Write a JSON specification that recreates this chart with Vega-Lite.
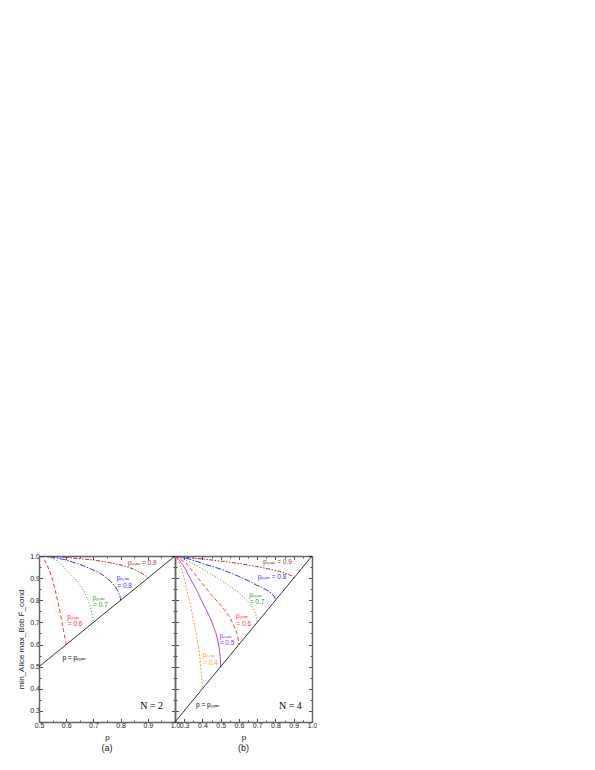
{
  "$schema": "https://vega.github.io/schema/vega-lite/v6.json",
  "padding": {"left": 17, "top": 552, "right": 0, "bottom": 0},
  "autosize": {"type": "pad"},
  "spacing": 0,
  "bounds": "flush",
  "config": {
    "view": {"stroke": null},
    "font": "Liberation Sans",
    "axis": {"domainColor": "#666", "domainWidth": 1.5, "tickColor": "#222", "tickWidth": 0.8, "labelFont": "Liberation Sans", "labelFontSize": 7, "labelColor": "#222", "titleFont": "Liberation Sans", "titleFontSize": 8, "titleFontWeight": "normal", "titleColor": "#222", "grid": false, "labelFlush": false, "labelOverlap": false},
    "title": {"font": "Liberation Sans", "fontSize": 9, "fontWeight": "normal", "color": "#222"}
  },
  "datasets": {
    "a": [
      {"s": "0.6", "p": 0.5, "F": 1.0}, {"s": "0.6", "p": 0.51, "F": 0.996}, {"s": "0.6", "p": 0.52, "F": 0.982}, {"s": "0.6", "p": 0.53, "F": 0.958}, {"s": "0.6", "p": 0.54, "F": 0.928}, {"s": "0.6", "p": 0.55, "F": 0.89}, {"s": "0.6", "p": 0.56, "F": 0.843}, {"s": "0.6", "p": 0.57, "F": 0.79}, {"s": "0.6", "p": 0.58, "F": 0.73}, {"s": "0.6", "p": 0.59, "F": 0.665}, {"s": "0.6", "p": 0.595, "F": 0.632}, {"s": "0.6", "p": 0.598, "F": 0.613}, {"s": "0.6", "p": 0.6, "F": 0.6},
      {"s": "0.7", "p": 0.5, "F": 1.0}, {"s": "0.7", "p": 0.53, "F": 0.997}, {"s": "0.7", "p": 0.56, "F": 0.985}, {"s": "0.7", "p": 0.585, "F": 0.957}, {"s": "0.7", "p": 0.61, "F": 0.925}, {"s": "0.7", "p": 0.63, "F": 0.9}, {"s": "0.7", "p": 0.65, "F": 0.872}, {"s": "0.7", "p": 0.665, "F": 0.84}, {"s": "0.7", "p": 0.68, "F": 0.8}, {"s": "0.7", "p": 0.69, "F": 0.765}, {"s": "0.7", "p": 0.696, "F": 0.735}, {"s": "0.7", "p": 0.699, "F": 0.715}, {"s": "0.7", "p": 0.7, "F": 0.7},
      {"s": "0.8", "p": 0.5, "F": 1.0}, {"s": "0.8", "p": 0.55, "F": 0.995}, {"s": "0.8", "p": 0.6, "F": 0.982}, {"s": "0.8", "p": 0.65, "F": 0.962}, {"s": "0.8", "p": 0.69, "F": 0.942}, {"s": "0.8", "p": 0.72, "F": 0.925}, {"s": "0.8", "p": 0.745, "F": 0.905}, {"s": "0.8", "p": 0.765, "F": 0.883}, {"s": "0.8", "p": 0.78, "F": 0.862}, {"s": "0.8", "p": 0.79, "F": 0.843}, {"s": "0.8", "p": 0.797, "F": 0.822}, {"s": "0.8", "p": 0.8, "F": 0.8},
      {"s": "0.9", "p": 0.5, "F": 1.0}, {"s": "0.9", "p": 0.6, "F": 0.994}, {"s": "0.9", "p": 0.7, "F": 0.982}, {"s": "0.9", "p": 0.76, "F": 0.97}, {"s": "0.9", "p": 0.81, "F": 0.957}, {"s": "0.9", "p": 0.85, "F": 0.94}, {"s": "0.9", "p": 0.875, "F": 0.925}, {"s": "0.9", "p": 0.89, "F": 0.912}, {"s": "0.9", "p": 0.897, "F": 0.905}, {"s": "0.9", "p": 0.9, "F": 0.9}
    ],
    "b": [
      {"s": "0.4", "p": 0.25, "F": 1.0}, {"s": "0.4", "p": 0.26, "F": 0.99}, {"s": "0.4", "p": 0.27, "F": 0.975}, {"s": "0.4", "p": 0.283, "F": 0.953}, {"s": "0.4", "p": 0.3, "F": 0.9}, {"s": "0.4", "p": 0.319, "F": 0.833}, {"s": "0.4", "p": 0.335, "F": 0.775}, {"s": "0.4", "p": 0.347, "F": 0.727}, {"s": "0.4", "p": 0.36, "F": 0.675}, {"s": "0.4", "p": 0.369, "F": 0.637}, {"s": "0.4", "p": 0.383, "F": 0.562}, {"s": "0.4", "p": 0.392, "F": 0.486}, {"s": "0.4", "p": 0.397, "F": 0.44}, {"s": "0.4", "p": 0.4, "F": 0.4},
      {"s": "0.5", "p": 0.25, "F": 1.0}, {"s": "0.5", "p": 0.27, "F": 0.985}, {"s": "0.5", "p": 0.292, "F": 0.961}, {"s": "0.5", "p": 0.32, "F": 0.92}, {"s": "0.5", "p": 0.347, "F": 0.878}, {"s": "0.5", "p": 0.375, "F": 0.835}, {"s": "0.5", "p": 0.401, "F": 0.788}, {"s": "0.5", "p": 0.425, "F": 0.75}, {"s": "0.5", "p": 0.447, "F": 0.712}, {"s": "0.5", "p": 0.474, "F": 0.652}, {"s": "0.5", "p": 0.485, "F": 0.615}, {"s": "0.5", "p": 0.493, "F": 0.577}, {"s": "0.5", "p": 0.498, "F": 0.54}, {"s": "0.5", "p": 0.5, "F": 0.5},
      {"s": "0.6", "p": 0.25, "F": 1.0}, {"s": "0.6", "p": 0.28, "F": 0.985}, {"s": "0.6", "p": 0.31, "F": 0.968}, {"s": "0.6", "p": 0.345, "F": 0.932}, {"s": "0.6", "p": 0.383, "F": 0.893}, {"s": "0.6", "p": 0.42, "F": 0.855}, {"s": "0.6", "p": 0.456, "F": 0.818}, {"s": "0.6", "p": 0.49, "F": 0.787}, {"s": "0.6", "p": 0.52, "F": 0.758}, {"s": "0.6", "p": 0.545, "F": 0.73}, {"s": "0.6", "p": 0.566, "F": 0.697}, {"s": "0.6", "p": 0.58, "F": 0.67}, {"s": "0.6", "p": 0.589, "F": 0.652}, {"s": "0.6", "p": 0.596, "F": 0.625}, {"s": "0.6", "p": 0.6, "F": 0.6},
      {"s": "0.7", "p": 0.25, "F": 1.0}, {"s": "0.7", "p": 0.29, "F": 0.988}, {"s": "0.7", "p": 0.328, "F": 0.976}, {"s": "0.7", "p": 0.375, "F": 0.954}, {"s": "0.7", "p": 0.42, "F": 0.931}, {"s": "0.7", "p": 0.465, "F": 0.909}, {"s": "0.7", "p": 0.511, "F": 0.886}, {"s": "0.7", "p": 0.555, "F": 0.86}, {"s": "0.7", "p": 0.602, "F": 0.833}, {"s": "0.7", "p": 0.635, "F": 0.808}, {"s": "0.7", "p": 0.657, "F": 0.788}, {"s": "0.7", "p": 0.675, "F": 0.765}, {"s": "0.7", "p": 0.688, "F": 0.745}, {"s": "0.7", "p": 0.696, "F": 0.725}, {"s": "0.7", "p": 0.7, "F": 0.7},
      {"s": "0.8", "p": 0.25, "F": 1.0}, {"s": "0.8", "p": 0.29, "F": 0.993}, {"s": "0.8", "p": 0.328, "F": 0.986}, {"s": "0.8", "p": 0.375, "F": 0.974}, {"s": "0.8", "p": 0.42, "F": 0.961}, {"s": "0.8", "p": 0.465, "F": 0.95}, {"s": "0.8", "p": 0.511, "F": 0.938}, {"s": "0.8", "p": 0.565, "F": 0.92}, {"s": "0.8", "p": 0.62, "F": 0.9}, {"s": "0.8", "p": 0.66, "F": 0.885}, {"s": "0.8", "p": 0.693, "F": 0.87}, {"s": "0.8", "p": 0.725, "F": 0.858}, {"s": "0.8", "p": 0.748, "F": 0.848}, {"s": "0.8", "p": 0.765, "F": 0.84}, {"s": "0.8", "p": 0.78, "F": 0.83}, {"s": "0.8", "p": 0.79, "F": 0.82}, {"s": "0.8", "p": 0.797, "F": 0.81}, {"s": "0.8", "p": 0.8, "F": 0.8},
      {"s": "0.9", "p": 0.25, "F": 1.0}, {"s": "0.9", "p": 0.328, "F": 0.992}, {"s": "0.9", "p": 0.42, "F": 0.985}, {"s": "0.9", "p": 0.511, "F": 0.976}, {"s": "0.9", "p": 0.6, "F": 0.966}, {"s": "0.9", "p": 0.693, "F": 0.953}, {"s": "0.9", "p": 0.76, "F": 0.942}, {"s": "0.9", "p": 0.821, "F": 0.931}, {"s": "0.9", "p": 0.855, "F": 0.922}, {"s": "0.9", "p": 0.876, "F": 0.916}, {"s": "0.9", "p": 0.89, "F": 0.91}, {"s": "0.9", "p": 0.897, "F": 0.905}, {"s": "0.9", "p": 0.9, "F": 0.9}
    ],
    "diagA": [{"p": 0.5, "F": 0.5}, {"p": 1.0, "F": 1.0}],
    "diagB": [{"p": 0.25, "F": 0.25}, {"p": 1.0, "F": 1.0}],
    "labA": [
      {"s": "0.9", "p": 0.827, "F": 0.967, "t": "pₘₐₓ = 0.9"},
      {"s": "0.8", "p": 0.786, "F": 0.9, "t": "pₘₐₓ"},
      {"s": "0.8", "p": 0.788, "F": 0.863, "t": "= 0.8"},
      {"s": "0.7", "p": 0.697, "F": 0.81, "t": "pₘₐₓ"},
      {"s": "0.7", "p": 0.699, "F": 0.778, "t": "= 0.7"},
      {"s": "0.6", "p": 0.604, "F": 0.725, "t": "pₘₐₓ"},
      {"s": "0.6", "p": 0.606, "F": 0.692, "t": "= 0.6"},
      {"s": "black", "p": 0.586, "F": 0.538, "t": "p = pₘₐₓ"}
    ],
    "labB": [
      {"s": "0.9", "p": 0.733, "F": 0.973, "t": "pₘₐₓ = 0.9"},
      {"s": "0.8", "p": 0.703, "F": 0.905, "t": "pₘₐₓ = 0.8"},
      {"s": "0.7", "p": 0.657, "F": 0.825, "t": "pₘₐₓ"},
      {"s": "0.7", "p": 0.659, "F": 0.79, "t": "= 0.7"},
      {"s": "0.6", "p": 0.584, "F": 0.729, "t": "pₘₐₓ"},
      {"s": "0.6", "p": 0.586, "F": 0.693, "t": "= 0.6"},
      {"s": "0.5", "p": 0.493, "F": 0.637, "t": "pₘₐₓ"},
      {"s": "0.5", "p": 0.495, "F": 0.607, "t": "= 0.5"},
      {"s": "0.4", "p": 0.402, "F": 0.554, "t": "pₘₐₓ"},
      {"s": "0.4", "p": 0.404, "F": 0.517, "t": "= 0.4"},
      {"s": "black", "p": 0.365, "F": 0.327, "t": "p = pₘₐₓ"}
    ],
    "nA": [{"p": 0.914, "F": 0.323, "t": "N = 2"}],
    "nB": [{"p": 0.882, "F": 0.323, "t": "N = 4"}]
  },
  "hconcat": [
    {
      "width": 136,
      "height": 166,
      "title": {"text": "(a)", "orient": "bottom", "offset": 3},
      "resolve": {"axis": {"x": "independent", "y": "independent"}},
      "layer": [
        {
          "data": {"name": "a"},
          "mark": {"type": "line", "strokeWidth": 1, "clip": true},
          "encoding": {
            "x": {"field": "p", "type": "quantitative", "scale": {"domain": [0.5, 1.0], "nice": false, "zero": false},
              "axis": {"orient": "bottom", "values": [0.5, 0.55, 0.6, 0.65, 0.7, 0.75, 0.8, 0.85, 0.9, 0.95, 1.0], "labelExpr": "round(datum.value*100) % 10 === 0 ? format(datum.value, '.1f') : ''", "tickSize": {"condition": {"test": "round(datum.value*100) % 10 === 0", "value": -3.5}, "value": -2}, "labelPadding": 3, "title": "p", "titlePadding": 3}},
            "y": {"field": "F", "type": "quantitative", "scale": {"domain": [0.25, 1.0], "nice": false, "zero": false},
              "axis": {"orient": "left", "values": [0.25, 0.3, 0.35, 0.4, 0.45, 0.5, 0.55, 0.6, 0.65, 0.7, 0.75, 0.8, 0.85, 0.9, 0.95, 1.0], "labelExpr": "round(datum.value*100) % 10 === 0 ? format(datum.value, '.1f') : ''", "tickSize": {"condition": {"test": "round(datum.value*100) % 10 === 0", "value": -3.5}, "value": -2}, "labelPadding": 3, "title": "min_Alice max_Bob F̄_cond", "titlePadding": 4}},
            "color": {"field": "s", "type": "nominal", "legend": null, "scale": {"domain": ["0.4", "0.5", "0.6", "0.7", "0.8", "0.9", "black"], "range": ["#ff9933", "#9933ff", "#ff3333", "#339933", "#3333ff", "#993333", "#000000"]}},
            "strokeDash": {"field": "s", "type": "nominal", "legend": null, "scale": {"domain": ["0.4", "0.5", "0.6", "0.7", "0.8", "0.9"], "range": [[2, 1.5], [1, 0], [4, 2.5], [1, 2], [6, 1.5, 1.5, 1.5], [4, 1.5, 1.5, 1.5, 1.5, 1.5]]}}
          }
        },
        {
          "data": {"name": "diagA"},
          "mark": {"type": "line", "color": "#000000", "strokeWidth": 0.8},
          "encoding": {
            "x": {"field": "p", "type": "quantitative", "scale": {"domain": [0.5, 1.0], "nice": false, "zero": false},
              "axis": {"orient": "top", "values": [0.5, 0.55, 0.6, 0.65, 0.7, 0.75, 0.8, 0.85, 0.9, 0.95, 1.0], "labels": false, "tickSize": {"condition": {"test": "round(datum.value*100) % 10 === 0", "value": -3.5}, "value": -2}, "title": null}},
            "y": {"field": "F", "type": "quantitative", "scale": {"domain": [0.25, 1.0], "nice": false, "zero": false},
              "axis": {"orient": "right", "values": [0.25, 0.3, 0.35, 0.4, 0.45, 0.5, 0.55, 0.6, 0.65, 0.7, 0.75, 0.8, 0.85, 0.9, 0.95, 1.0], "labels": false, "tickSize": {"condition": {"test": "round(datum.value*100) % 10 === 0", "value": -3.5}, "value": -2}, "title": null}}
          }
        },
        {
          "data": {"name": "labA"},
          "mark": {"type": "text", "align": "left", "baseline": "middle", "fontSize": 6.5, "font": "Liberation Sans"},
          "encoding": {
            "x": {"field": "p", "type": "quantitative", "axis": null},
            "y": {"field": "F", "type": "quantitative", "axis": null},
            "text": {"field": "t"},
            "color": {"field": "s", "type": "nominal", "legend": null, "scale": {"domain": ["0.4", "0.5", "0.6", "0.7", "0.8", "0.9", "black"], "range": ["#ff9933", "#9933ff", "#ff3333", "#339933", "#3333ff", "#993333", "#000000"]}}
          }
        },
        {
          "data": {"name": "nA"},
          "mark": {"type": "text", "align": "center", "baseline": "middle", "fontSize": 10, "font": "Liberation Serif", "color": "#000000"},
          "encoding": {
            "x": {"field": "p", "type": "quantitative", "axis": null},
            "y": {"field": "F", "type": "quantitative", "axis": null},
            "text": {"field": "t"}
          }
        }
      ]
    },
    {
      "width": 137,
      "height": 166,
      "title": {"text": "(b)", "orient": "bottom", "offset": 3},
      "resolve": {"axis": {"x": "independent", "y": "independent"}},
      "layer": [
        {
          "data": {"name": "b"},
          "mark": {"type": "line", "strokeWidth": 1, "clip": true},
          "encoding": {
            "x": {"field": "p", "type": "quantitative", "scale": {"domain": [0.25, 1.0], "nice": false, "zero": false},
              "axis": {"orient": "bottom", "values": [0.25, 0.3, 0.35, 0.4, 0.45, 0.5, 0.55, 0.6, 0.65, 0.7, 0.75, 0.8, 0.85, 0.9, 0.95, 1.0], "labelExpr": "round(datum.value*100) % 10 === 0 ? format(datum.value, '.1f') : ''", "tickSize": {"condition": {"test": "round(datum.value*100) % 10 === 0", "value": -3.5}, "value": -2}, "labelPadding": 3, "title": "p", "titlePadding": 3}},
            "y": {"field": "F", "type": "quantitative", "scale": {"domain": [0.25, 1.0], "nice": false, "zero": false},
              "axis": {"orient": "left", "values": [0.25, 0.3, 0.35, 0.4, 0.45, 0.5, 0.55, 0.6, 0.65, 0.7, 0.75, 0.8, 0.85, 0.9, 0.95, 1.0], "labels": false, "tickSize": {"condition": {"test": "round(datum.value*100) % 10 === 0", "value": -3.5}, "value": -2}, "title": null}},
            "color": {"field": "s", "type": "nominal", "legend": null, "scale": {"domain": ["0.4", "0.5", "0.6", "0.7", "0.8", "0.9", "black"], "range": ["#ff9933", "#9933ff", "#ff3333", "#339933", "#3333ff", "#993333", "#000000"]}},
            "strokeDash": {"field": "s", "type": "nominal", "legend": null, "scale": {"domain": ["0.4", "0.5", "0.6", "0.7", "0.8", "0.9"], "range": [[2, 1.5], [1, 0], [4, 2.5], [1, 2], [6, 1.5, 1.5, 1.5], [4, 1.5, 1.5, 1.5, 1.5, 1.5]]}}
          }
        },
        {
          "data": {"name": "diagB"},
          "mark": {"type": "line", "color": "#000000", "strokeWidth": 0.8},
          "encoding": {
            "x": {"field": "p", "type": "quantitative", "scale": {"domain": [0.25, 1.0], "nice": false, "zero": false},
              "axis": {"orient": "top", "values": [0.25, 0.3, 0.35, 0.4, 0.45, 0.5, 0.55, 0.6, 0.65, 0.7, 0.75, 0.8, 0.85, 0.9, 0.95, 1.0], "labels": false, "tickSize": {"condition": {"test": "round(datum.value*100) % 10 === 0", "value": -3.5}, "value": -2}, "title": null}},
            "y": {"field": "F", "type": "quantitative", "scale": {"domain": [0.25, 1.0], "nice": false, "zero": false},
              "axis": {"orient": "right", "values": [0.25, 0.3, 0.35, 0.4, 0.45, 0.5, 0.55, 0.6, 0.65, 0.7, 0.75, 0.8, 0.85, 0.9, 0.95, 1.0], "labels": false, "tickSize": {"condition": {"test": "round(datum.value*100) % 10 === 0", "value": -3.5}, "value": -2}, "title": null}}
          }
        },
        {
          "data": {"name": "labB"},
          "mark": {"type": "text", "align": "left", "baseline": "middle", "fontSize": 6.5, "font": "Liberation Sans"},
          "encoding": {
            "x": {"field": "p", "type": "quantitative", "axis": null},
            "y": {"field": "F", "type": "quantitative", "axis": null},
            "text": {"field": "t"},
            "color": {"field": "s", "type": "nominal", "legend": null, "scale": {"domain": ["0.4", "0.5", "0.6", "0.7", "0.8", "0.9", "black"], "range": ["#ff9933", "#9933ff", "#ff3333", "#339933", "#3333ff", "#993333", "#000000"]}}
          }
        },
        {
          "data": {"name": "nB"},
          "mark": {"type": "text", "align": "center", "baseline": "middle", "fontSize": 10, "font": "Liberation Serif", "color": "#000000"},
          "encoding": {
            "x": {"field": "p", "type": "quantitative", "axis": null},
            "y": {"field": "F", "type": "quantitative", "axis": null},
            "text": {"field": "t"}
          }
        }
      ]
    }
  ]
}
